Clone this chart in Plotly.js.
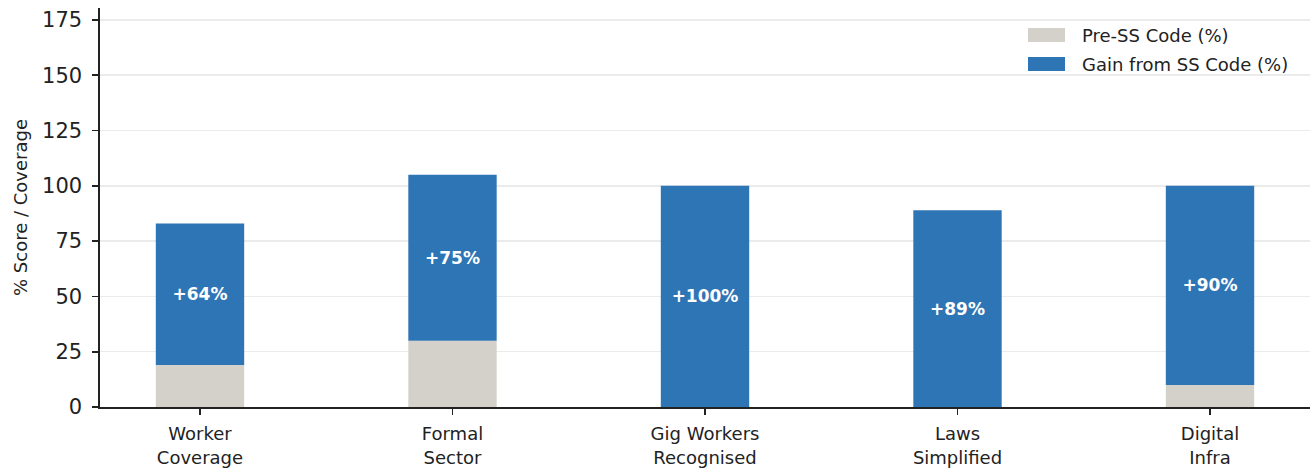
<!DOCTYPE html>
<html>
<head>
<meta charset="utf-8">
<script src="https://cdn.plot.ly/plotly-3.0.1.min.js"></script>
<style>
  html, body { margin: 0; padding: 0; background: #ffffff; }
  #chart { width: 1316px; height: 468px; }
</style>
</head>
<body>
<div id="chart"></div>
<script>
// Social security code impact by area
const categories = ["Worker<br>Coverage", "Formal<br>Sector", "Gig Workers<br>Recognised", "Laws<br>Simplified", "Digital<br>Infra"];
const preSS = [19, 30, 0, 0, 10];
const gainSS = [64, 75, 100, 89, 90];
const gainLabels = gainSS.map(v => "+" + v + "%");
const yTicks = [0, 25, 50, 75, 100, 125, 150, 175];
const seriesNames = ["Pre-SS Code (%)", "Gain from SS Code (%)"];
const seriesColors = ["#d3d1c9", "#2e75b6"];

const xIdx = categories.map((_, i) => i);
const font = "DejaVu Sans, sans-serif";

const traces = [
  {
    type: "bar",
    name: seriesNames[0],
    x: xIdx,
    y: preSS,
    width: 0.35,
    marker: { color: seriesColors[0], line: { width: 0 } },
    hoverinfo: "skip"
  },
  {
    type: "bar",
    name: seriesNames[1],
    x: xIdx,
    y: gainSS,
    base: preSS,
    width: 0.35,
    marker: { color: seriesColors[1], line: { width: 0 } },
    text: gainLabels,
    textposition: "inside",
    insidetextanchor: "middle",
    textangle: 0,
    textfont: { family: font, size: 17, color: "#ffffff", weight: "bold" },
    hoverinfo: "skip"
  }
];

// Legend drawn as paper-anchored swatches and labels (wide rectangular keys)
const W = 1316, H = 468;
const legendRows = [35, 64];          // row centres in px from top
const swX0 = 1028, swX1 = 1065, swH = 14, textX = 1080;
const shapes = [];
const annotations = [];
seriesNames.forEach((name, i) => {
  const cy = legendRows[i];
  shapes.push({
    type: "rect", xref: "paper", yref: "paper",
    x0: (swX0 - 100) / (W - 106), x1: (swX1 - 100) / (W - 106),
    y0: (H - 61 - (cy + swH / 2)) / (H - 69), y1: (H - 61 - (cy - swH / 2)) / (H - 69),
    fillcolor: seriesColors[i], line: { width: 0 }
  });
  annotations.push({
    xref: "paper", yref: "paper",
    x: (textX - 100) / (W - 106), y: (H - 61 - cy) / (H - 69),
    xanchor: "left", yanchor: "middle", showarrow: false,
    text: name,
    font: { family: font, size: 18, color: "#222222" }
  });
});

const layout = {
  width: W,
  height: H,
  margin: { l: 100, r: 6, t: 8, b: 61 },
  paper_bgcolor: "#ffffff",
  plot_bgcolor: "#ffffff",
  barmode: "overlay",
  showlegend: false,
  font: { family: font, color: "#222222" },
  shapes: shapes,
  annotations: annotations,
  xaxis: {
    range: [-0.396, 4.396],
    tickmode: "array",
    tickvals: xIdx,
    ticktext: categories,
    ticks: "outside",
    ticklen: 6,
    tickwidth: 1.6,
    tickcolor: "#222222",
    tickfont: { family: font, size: 18, color: "#222222" },
    ticklabelstandoff: 4,
    showline: true,
    linecolor: "#222222",
    linewidth: 1.6,
    showgrid: false,
    zeroline: false,
    fixedrange: true
  },
  yaxis: {
    range: [0, 180.4],
    tickmode: "array",
    tickvals: yTicks,
    ticks: "outside",
    ticklen: 6,
    tickwidth: 1.6,
    tickcolor: "#222222",
    tickfont: { family: font, size: 21, color: "#222222" },
    ticklabelstandoff: 6,
    showline: true,
    linecolor: "#222222",
    linewidth: 1.6,
    showgrid: true,
    gridcolor: "#ebebeb",
    gridwidth: 1.5,
    zeroline: false,
    title: { text: "% Score / Coverage", font: { family: font, size: 18, color: "#222222" }, standoff: 10 },
    fixedrange: true
  }
};

Plotly.newPlot("chart", traces, layout, { displayModeBar: false, staticPlot: true });
</script>
</body>
</html>
